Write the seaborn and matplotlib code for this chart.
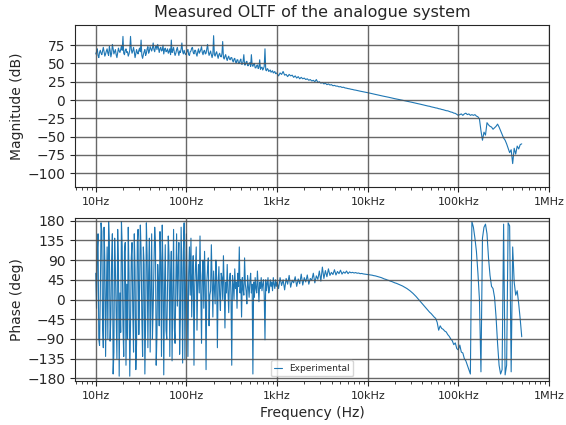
import numpy as np
import matplotlib
matplotlib.use("Agg")
import matplotlib.pyplot as plt
from matplotlib.ticker import EngFormatter, NullFormatter, FixedLocator
import seaborn as sns

# Swept-sine measurement: 120 pts/decade from 10 Hz to 1 kHz,
# then 60 pts/decade from 1 kHz to 500 kHz
f_start = 10.0
f_mid = 1e3
f_stop = 5e5

# Magnitude (dB)
mag_10_100 = [63, 66, 70, 61, 58, 65, 68, 64, 62, 67, 72, 66, 60, 63, 67, 70, 64, 61,
              73, 68, 59, 64, 76, 70, 63, 66, 69, 62, 58, 65, 71, 67, 65, 69, 74, 68,
              87, 64, 62, 68, 70, 65, 66, 60, 63, 68, 87, 70, 64, 67, 72, 66, 58, 63,
              69, 65, 63, 68, 71, 66, 82, 61, 57, 62, 66, 69, 61, 64, 70, 73, 64, 67,
              73, 70, 67, 71, 78, 69, 66, 72, 74, 69, 76, 71, 65, 70, 72, 67, 68, 75,
              63, 69, 71, 66, 67, 70, 64, 66, 70, 62, 82, 65, 68, 72, 65, 61, 64, 69,
              72, 66, 61, 67, 65, 70, 78, 66, 63, 68, 64, 62]
mag_100_1k = [64, 67, 69, 62, 61, 66, 67, 71, 72, 65, 63, 68, 68, 63, 60, 66, 70, 64,
              66, 69, 73, 65, 62, 67, 68, 63, 64, 70, 76, 66, 61, 64, 67, 62, 58, 63,
              88, 62, 60, 64, 66, 61, 57, 62, 64, 60, 59, 63, 80, 58, 56, 60, 62, 57,
              54, 58, 60, 56, 55, 58, 58, 54, 52, 56, 57, 52, 51, 55, 55, 50, 50, 54,
              56, 49, 49, 53, 62, 48, 48, 52, 53, 47, 47, 50, 51, 46, 62, 48, 46, 49,
              50, 44, 44, 47, 48, 43, 45, 55, 42, 44, 45, 41, 43, 46, 70, 41, 40, 43,
              42, 39, 40, 41, 38, 39, 40, 37, 38, 39, 36, 37]
mag_1k_10k = [36, 33, 37, 35, 39, 34, 35, 32, 35, 33, 34, 31, 33, 30, 32, 29, 31, 29, 30, 28,
              29, 27, 28, 26, 27, 25, 28, 24, 25, 23, 24, 22, 23, 21, 22, 20.5, 21, 19.5, 20, 19,
              19, 18, 18.3, 17.2, 17.5, 16.5, 16.2, 15.6, 15.3, 14.7, 14.4, 13.8, 13.5, 13.0, 12.6,
              12.1, 11.7, 11.2, 10.8, 10.4]
mag_10k_100k = [10.0, 9.6, 9.1, 8.6, 8.2, 7.7, 7.3, 6.8, 6.3, 5.9, 5.4, 5.0, 4.6, 4.1, 3.7, 3.2,
                2.8, 2.3, 1.8, 1.4, 0.9, 0.5, 0.1, -0.3, -0.8, -1.2, -1.7, -2.1, -2.6, -3.0,
                -3.5, -4.0, -4.4, -4.9, -5.3, -5.8, -6.3, -6.7, -7.2, -7.8, -8.3, -8.6, -9.3,
                -9.7, -10.2, -10.8, -11.1, -11.9, -12.2, -12.9, -13.3, -13.9, -14.6, -14.8,
                -15.6, -16.4, -16.8, -17.9, -18.3, -19.6]
mag_100k_500k = [-21, -20, -19, -21, -19, -18, -20, -19, -21, -20, -21, -20, -22, -23, -26,
                 -42, -55, -44, -48, -31, -34, -36, -37, -40, -38, -36, -33, -37, -42, -47,
                 -52, -55, -60, -66, -72, -68, -87, -66, -74, -63, -67, -61, -60]

# Phase (deg)
ph_10_100 = [60, -20, 110, 150, -90, -105, 10, 175, 155, -60, -110, 165, 90, -130, 5, 120, -90, 178,
             130, -95, -40, 90, 150, -170, -120, 140, 70, -40, -135, 160, 85, -175, 15, -75, 178, 120,
             -60, -130, 110, 130, -150, 35, -90, 165, 60, -175, -60, 95, 130, -30, -120, 150, 70, -160,
             -100, 130, 160, -80, 25, 170, 110, -45, -130, 120, 80, -170, -50, 175, 100, -110, 60, 140,
             -120, 20, 150, -90, -20, 70, 165, 130, -150, -80, 80, 40, -60, 155, 90, -130, 170, 60,
             -172, 25, 125, -70, -90, 35, 145, 100, -130, 50, 110, -140, 20, 160, -65, -100, 40, 150,
             -15, 80, 130, -125, -40, 165, 60, -145, 110, 175, -135, 30]
ph_100_1k = [150, 20, -130, 60, 120, 10, 140, -40, 55, 100, -150, 30, 75, 120, -70, 40, 80, 15,
             145, 20, -100, 55, 90, -20, 110, 30, -160, 40, 70, 95, -60, 10, 20, 125, 45, -40,
             65, 30, -10, 90, 50, -110, 35, 75, 10, -25, 60, 50, 0, 100, 30, -65, 40, 15,
             80, 20, -30, 45, 60, 10, -150, 55, 35, 0, 70, 25, 40, -20, 60, 30, 120, 15,
             45, -40, 50, 25, 10, 95, 35, 20, -10, 55, 30, 5, 40, 60, 15, 35, -170, 40,
             5, 50, 25, 15, 65, 30, -5, 40, 25, 50, 20, 35, 45, 10, -92, 45, 20, 35,
             50, 15, 25, 45, 30, 40, 20, 50, 35, 25, 45, 30]
ph_1k_10k = [40, 25, 50, 32, 45, 22, 48, 35, 55, 28, 44, 38, 52, 30, 47, 36, 58, 33, 50, 40,
             56, 35, 48, 44, 60, 38, 54, 46, 65, 42, 74, 48, 66, 52, 70, 55, 62, 57, 68, 56,
             64, 59, 67, 58, 63, 60, 65, 59, 63, 61, 62, 60.5, 61.5, 60, 60.5, 59, 59.5, 58.5,
             58, 57.5]
ph_10k_100k = [57, 56.5, 56, 55.5, 54.5, 54, 53, 52, 51, 50, 48.5, 47, 46, 44.5, 43.5, 42, 41,
               39.5, 38, 37, 35.5, 34, 32.5, 31, 29, 27, 25, 22.5, 20, 17, 14, 10.5, 7, 3, -1,
               -5, -9, -13, -17, -21, -25, -29, -32, -36, -40, -43, -52, -70, -60, -66, -68,
               -72, -74, -80, -84, -90, -94, -103, -99, -112]
ph_100k_500k = [-115, -104, -120, -122, -135, -140, -150, -160, -170, 178, 165, 140, 110, 60, 0,
                -165, 140, 165, 172, 150, 95, 55, 30, 25, 5, -40, -100, -150, -170, -160, 172,
                -172, -150, 175, 168, -165, 120, 40, 10, 20, -10, -45, -85]

mag_low = mag_10_100 + mag_100_1k
mag_high = mag_1k_10k + mag_10k_100k + mag_100k_500k
magnitude = np.array(mag_low + mag_high)
phase = np.array(ph_10_100 + ph_100_1k + ph_1k_10k + ph_10k_100k + ph_100k_500k)
freq = np.concatenate([
    np.geomspace(f_start, f_mid, len(mag_low), endpoint=False),
    np.geomspace(f_mid, f_stop, len(mag_high)),
])

mag_ticks = [-100, -75, -50, -25, 0, 25, 50, 75]
phase_ticks = [-180, -135, -90, -45, 0, 45, 90, 135, 180]

sns.set_style("white")
plt.rcParams["font.family"] = ["DejaVu Sans"]

fig = plt.figure(figsize=(5.66, 4.25), dpi=100)
ax_mag = fig.add_axes([0.1325, 0.56, 0.8375, 0.381])
ax_ph = fig.add_axes([0.1325, 0.1035, 0.8375, 0.3835])

line_color = "#1f77b4"
sns.lineplot(x=freq, y=magnitude, ax=ax_mag, color=line_color, linewidth=0.8,
             estimator=None, sort=False)
sns.lineplot(x=freq, y=phase, ax=ax_ph, color=line_color, linewidth=0.8,
             estimator=None, sort=False, label="Experimental")

for ax in (ax_mag, ax_ph):
    ax.set_xscale("log")
    ax.set_xlim(5.9, 1e6)
    ax.xaxis.set_major_formatter(EngFormatter(unit="Hz", sep=""))
    ax.xaxis.set_minor_formatter(NullFormatter())
    ax.grid(True, which="major", color="0.3", linewidth=1.0, alpha=0.85)
    ax.set_axisbelow(False)
    ax.tick_params(axis="x", which="major", labelsize=8, length=3.5, bottom=True)
    ax.tick_params(axis="x", which="minor", length=2, bottom=True)
    ax.tick_params(axis="y", labelsize=10, length=3.5, left=True)
    for s in ax.spines.values():
        s.set_color("0.15")
        s.set_linewidth(0.8)

ax_mag.set_ylim(-119, 102.5)
ax_mag.yaxis.set_major_locator(FixedLocator(mag_ticks))
ax_mag.set_ylabel("Magnitude (dB)", fontsize=10, labelpad=2)
ax_mag.set_xlabel("")
ax_mag.set_title("Measured OLTF of the analogue system", fontsize=11.5)

ax_ph.set_ylim(-186, 186)
ax_ph.yaxis.set_major_locator(FixedLocator(phase_ticks))
ax_ph.set_ylabel("Phase (deg)", fontsize=10, labelpad=2)
ax_ph.set_xlabel("Frequency (Hz)", fontsize=10)
ax_ph.legend(loc="lower center", fontsize=6.5, handlelength=0.8, frameon=True)

fig.savefig("out.png", dpi=100)
